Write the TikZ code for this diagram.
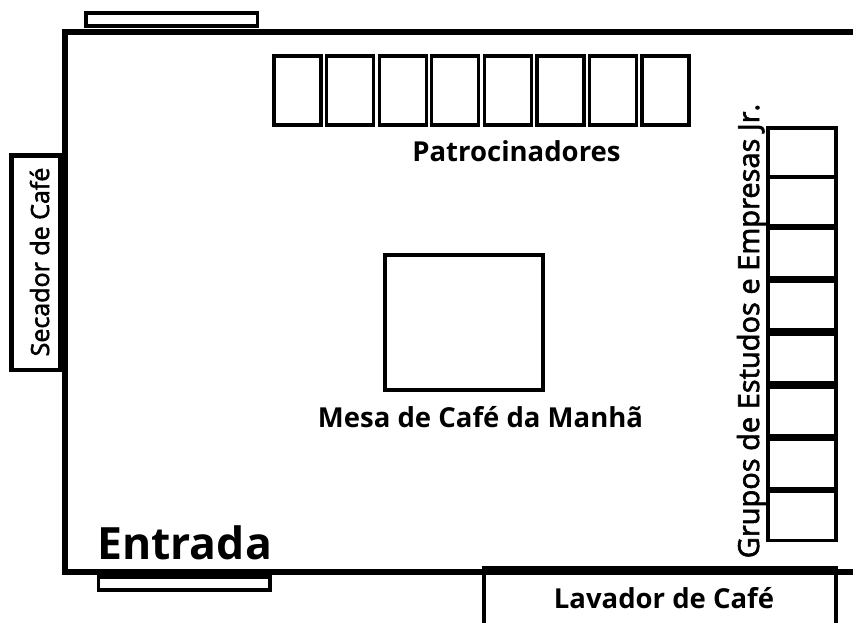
\documentclass[tikz,border=0pt]{standalone}
\usepackage{fontspec}
\setmainfont{Open Sans}
\newfontfamily\medfont[FakeBold=2.2]{Open Sans}
\usetikzlibrary{positioning}
\tikzset{
    booth/.style={draw, line width=3.3pt, inner sep=0pt, outer sep=0pt},
    wall/.style={line width=6pt},
    plantext/.style={font=\bfseries\fontsize{27.5}{32}\selectfont, inner sep=0pt},
    sidetext/.style={inner sep=0pt, rotate=90, anchor=base}
}

\begin{document}
\begin{tikzpicture}[x=1pt, y=-1pt]
    \useasboundingbox (0,0) rectangle (853,623);

    % Draw the outer walls
    \coordinate (wallstart) at (853,32);
    \coordinate (wallend) at (853,571.5);
    \draw[wall, miter limit=10] (wallstart) -- (65.3,32) -- (65.3,571.5) -- (wallend);

    % Draw the door strips
    \node[booth, minimum width=171.5pt, minimum height=13pt] (topstrip) at (171.7,19.5){};
    \node[booth, minimum width=171.5pt, minimum height=13pt] (doorstrip) at (184.2,583.5){};
    \node[font=\bfseries\fontsize{44.5}{50}\selectfont, inner sep=0pt, anchor=base west] (entrada) at (97,559){Entrada};

    % Draw the sponsor booths
    \foreach \x[count=\c,evaluate={\xi=int(\c-1)}] in {297.5, 350.1, 402.7, 455.3, 507.9, 560.5, 613.1, 665.5}{
        \node[booth, minimum width=47pt, minimum height=69pt] (p\xi) at (\x,90.5){};
    }
    \node[plantext, anchor=base] (patrocinadores) at (516.5,161){Patrocinadores};

    % Draw the breakfast table
    \node[booth, minimum width=158pt, minimum height=135pt] (mesa) at (464,322.5){};
    \node[plantext, anchor=base] (mesalabel) at (480.5,427){Mesa de Café da Manhã};

    % Draw the side box
    \node[booth, line width=4.5pt, fill=white, minimum width=49pt, minimum height=214.5pt] (secador) at (36,262.75){};
    \node[sidetext, font=\medfont\fontsize{25}{30}\selectfont] (secadorlabel) at (49,262){Secador de Café};

    % Draw the group booths
    \foreach \y[count=\c,evaluate={\yi=int(\c-1)}] in {152.5, 201, 253, 305.5, 358.5, 411.5, 464, 516}{
        \node[booth, minimum width=68pt, minimum height=49pt] (g\yi) at (802,\y){};
    }
    \node[sidetext, font=\medfont\fontsize{29}{34}\selectfont] (gruposlabel) at (759,331){Grupos de Estudos e Empresas Jr.};

    % Draw the washer box
    \coordinate (lavleft) at (483.7,623);
    \coordinate (lavright) at (836,623);
    \draw[line width=4pt] (lavleft) -- (483.7,570.5) (836,570.5) -- (lavright);
    \draw[line width=9pt] (481.7,570.5) -- (838,570.5);
    \node[plantext, anchor=base] (lavador) at (664,608){Lavador de Café};
\end{tikzpicture}
\end{document}
